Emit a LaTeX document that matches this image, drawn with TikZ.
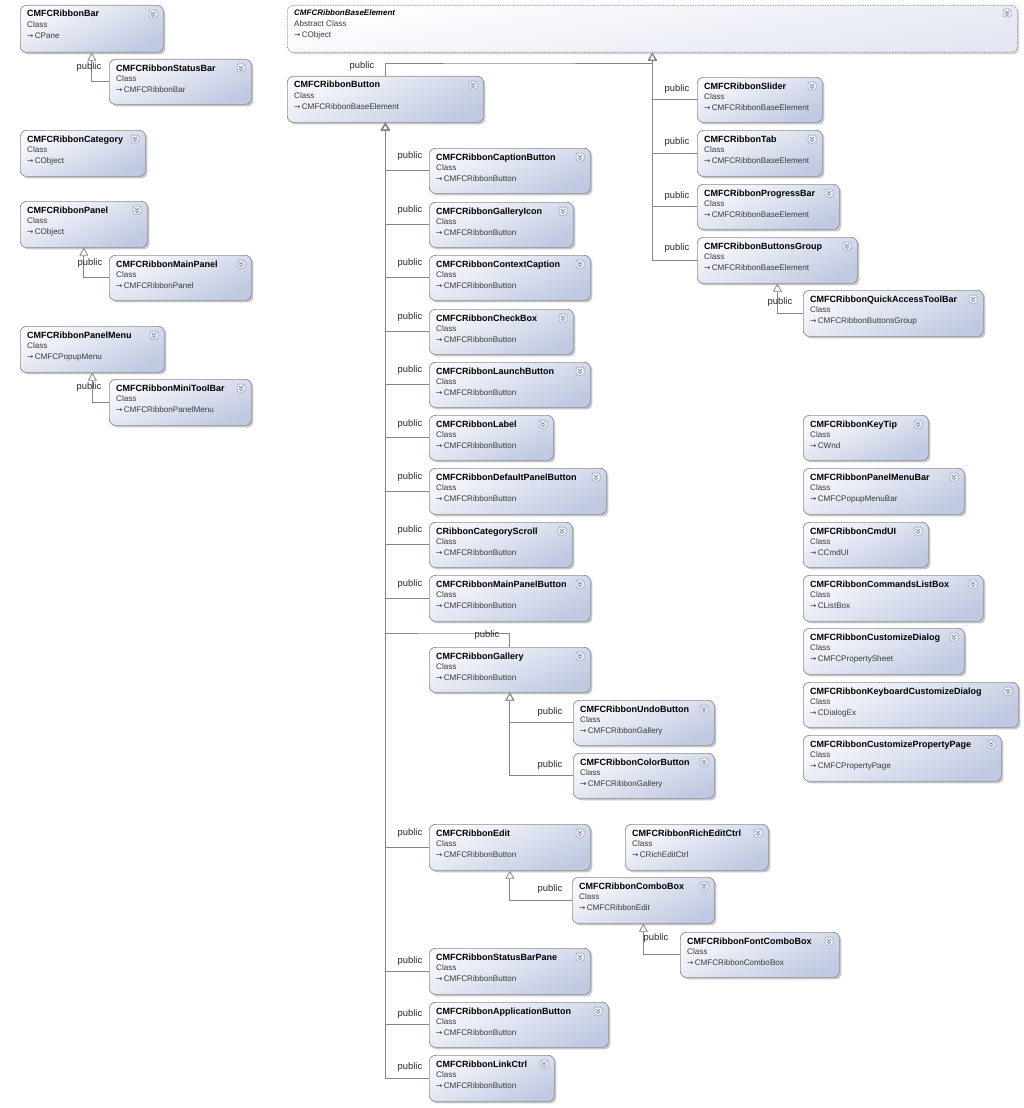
\documentclass[tikz,border=0pt]{standalone}
\usepackage{fontspec}
\setmainfont{Liberation Sans}
\newfontfamily\arrfont{DejaVu Sans}
\usetikzlibrary{arrows.meta,shadows}
\definecolor{boxtop}{HTML}{F8F9FD}
\definecolor{boxbot}{HTML}{C0C9E1}
\definecolor{boxline}{HTML}{8E8E8E}
\definecolor{conn}{HTML}{858585}
\definecolor{subtxt}{HTML}{3A3A3A}
\definecolor{iconfill}{HTML}{EEF1F8}
\definecolor{iconline}{HTML}{8A95B0}
\tikzset{
  cbox/.style={draw=boxline, line width=0.7pt, rounded corners=6pt,
    top color=boxtop, bottom color=boxbot, shading angle=25,
    drop shadow={shadow xshift=2pt, shadow yshift=-2pt, fill=black, opacity=0.22},
    inner sep=0pt},
  abox/.style={draw=boxline, line width=0.7pt, dash pattern=on 1.5pt off 1pt, rounded corners=6pt,
    top color=white, bottom color=boxbot!45, shading angle=10,
    drop shadow={shadow xshift=2pt, shadow yshift=-2pt, fill=black, opacity=0.15},
    inner sep=0pt},
  ctitle/.style={anchor=base west, inner sep=0pt, font=\fontsize{9}{10}\selectfont\bfseries},
  csub/.style={anchor=base west, inner sep=0pt, text=subtxt, font=\fontsize{8.1}{9}\selectfont},
  pub/.style={inner sep=0pt, font=\fontsize{9.4}{10}\selectfont, text=black!85},
  inh/.style={draw=conn, line width=0.8pt, -{Triangle[open, length=8pt, width=9pt]}},
  iconbox/.style={draw=iconline, fill=iconfill, line width=0.5pt, rounded corners=1.5pt},
  chev/.style={draw=iconline!70!black, line width=0.6pt}
}
\newcommand\xicon[2]{%
  \draw[iconbox] ({#1-14},{#2+5}) rectangle ({#1-6},{#2+13});
  \draw[chev] ({#1-12},{#2+7}) -- ({#1-10},{#2+9}) -- ({#1-8},{#2+7});
  \draw[chev] ({#1-12},{#2+9.5}) -- ({#1-10},{#2+11.5}) -- ({#1-8},{#2+9.5});
}
\newcommand\clsbox[7]{%
  \node[cbox, minimum width={#4-#2}, minimum height={#5-#3}, anchor=north west] (#1) at (#2,#3) {};
  \node[ctitle] (#1-n) at ({#2+7},{#3+12}) {#6};
  \node[csub] (#1-k) at ({#2+7},{#3+22.5}) {Class};
  \node[csub] (#1-s) at ({#2+7},{#3+33.5}) {{\arrfont\fontsize{7.5}{9}\selectfont →}\,#7};
  \xicon{#4}{#3}
}
\begin{document}
\begin{tikzpicture}[x=1pt,y=-1pt]
\useasboundingbox (0,0) rectangle (1024,1108);

% ---------- left column ----------
\clsbox{bar}{20}{5}{163}{52}{CMFCRibbonBar}{CPane}
\clsbox{sbar}{109}{59}{251}{104}{CMFCRibbonStatusBar}{CMFCRibbonBar}
\clsbox{cat}{20}{130}{145}{176}{CMFCRibbonCategory}{CObject}
\clsbox{panel}{20}{201}{147}{247}{CMFCRibbonPanel}{CObject}
\clsbox{mpanel}{109}{255}{251}{300}{CMFCRibbonMainPanel}{CMFCRibbonPanel}
\clsbox{pmenu}{20}{326}{164}{372}{CMFCRibbonPanelMenu}{CMFCPopupMenu}
\clsbox{mini}{109}{379}{251}{425}{CMFCRibbonMiniToolBar}{CMFCRibbonPanelMenu}

% ---------- abstract base ----------
\node[abox, minimum width=730, minimum height=47, anchor=north west] (base) at (287,5) {};
\node[anchor=base west, inner sep=0pt, font=\fontsize{8}{9}\selectfont\bfseries\itshape] (base-n) at (294,16) {CMFCRibbonBaseElement};
\node[csub] (base-k) at (294,27) {Abstract Class};
\node[csub] (base-s) at (294,38) {{\arrfont\fontsize{7.5}{9}\selectfont →}\,CObject};
\xicon{1017}{4}

\clsbox{btn}{287}{76}{483}{122}{CMFCRibbonButton}{CMFCRibbonBaseElement}

% ---------- right column ----------
\clsbox{slider}{697}{77}{822}{122}{CMFCRibbonSlider}{CMFCRibbonBaseElement}
\clsbox{tab}{697}{130}{822}{176}{CMFCRibbonTab}{CMFCRibbonBaseElement}
\clsbox{prog}{697}{184}{839}{229}{CMFCRibbonProgressBar}{CMFCRibbonBaseElement}
\clsbox{grp}{697}{237}{857}{283}{CMFCRibbonButtonsGroup}{CMFCRibbonBaseElement}
\clsbox{qat}{803}{290}{983}{336}{CMFCRibbonQuickAccessToolBar}{CMFCRibbonButtonsGroup}

\clsbox{keytip}{803}{415}{928}{460}{CMFCRibbonKeyTip}{CWnd}
\clsbox{pmbar}{803}{468}{964}{514}{CMFCRibbonPanelMenuBar}{CMFCPopupMenuBar}
\clsbox{cmdui}{803}{522}{928}{567}{CMFCRibbonCmdUI}{CCmdUI}
\clsbox{clb}{803}{575}{983}{621}{CMFCRibbonCommandsListBox}{CListBox}
\clsbox{cdlg}{803}{628}{964}{674}{CMFCRibbonCustomizeDialog}{CMFCPropertySheet}
\clsbox{kcd}{803}{682}{1018}{727}{CMFCRibbonKeyboardCustomizeDialog}{CDialogEx}
\clsbox{cpp}{803}{735}{1001}{781}{CMFCRibbonCustomizePropertyPage}{CMFCPropertyPage}

% ---------- middle column ----------
\clsbox{cap}{429}{148}{590}{193}{CMFCRibbonCaptionButton}{CMFCRibbonButton}
\clsbox{gicon}{429}{202}{573}{247}{CMFCRibbonGalleryIcon}{CMFCRibbonButton}
\clsbox{ctx}{429}{255}{590}{300}{CMFCRibbonContextCaption}{CMFCRibbonButton}
\clsbox{chk}{429}{309}{573}{354}{CMFCRibbonCheckBox}{CMFCRibbonButton}
\clsbox{launch}{429}{362}{590}{407}{CMFCRibbonLaunchButton}{CMFCRibbonButton}
\clsbox{lbl}{429}{415}{553}{460}{CMFCRibbonLabel}{CMFCRibbonButton}
\clsbox{dpb}{429}{468}{606}{514}{CMFCRibbonDefaultPanelButton}{CMFCRibbonButton}
\clsbox{scroll}{429}{522}{572}{567}{CRibbonCategoryScroll}{CMFCRibbonButton}
\clsbox{mpb}{429}{575}{590}{621}{CMFCRibbonMainPanelButton}{CMFCRibbonButton}
\clsbox{gal}{429}{647}{590}{692}{CMFCRibbonGallery}{CMFCRibbonButton}
\clsbox{undo}{573}{700}{714}{745}{CMFCRibbonUndoButton}{CMFCRibbonGallery}
\clsbox{color}{573}{753}{714}{798}{CMFCRibbonColorButton}{CMFCRibbonGallery}
\clsbox{edit}{429}{824}{590}{870}{CMFCRibbonEdit}{CMFCRibbonButton}
\clsbox{rich}{625}{824}{768}{870}{CMFCRibbonRichEditCtrl}{CRichEditCtrl}
\clsbox{combo}{572}{877}{714}{923}{CMFCRibbonComboBox}{CMFCRibbonEdit}
\clsbox{font}{680}{932}{839}{977}{CMFCRibbonFontComboBox}{CMFCRibbonComboBox}
\clsbox{sbp}{429}{948}{590}{994}{CMFCRibbonStatusBarPane}{CMFCRibbonButton}
\clsbox{app}{429}{1002}{608}{1047}{CMFCRibbonApplicationButton}{CMFCRibbonButton}
\clsbox{link}{429}{1055}{554}{1101}{CMFCRibbonLinkCtrl}{CMFCRibbonButton}

% ---------- connectors ----------
\draw[inh] (sbar.west) -| (bar.south);
\draw[inh] (mpanel.west) -| (panel.south);
\draw[inh] (mini.west) -| (pmenu.south);

\coordinate (bj) at (500,63);
\draw[inh] (btn.north) |- (bj) -| (base.south);
\foreach \c in {slider,tab,prog,grp}{\draw[inh] (\c.west) -| (base.south);}
\draw[inh] (qat.west) -| (grp.south);

\foreach \c in {cap,gicon,ctx,chk,launch,lbl,dpb,scroll,mpb,edit,sbp,app,link}{\draw[inh] (\c.west) -| (btn.south);}
\coordinate (gj) at (450,633);
\draw[inh] (gal.north) |- (gj) -| (btn.south);
\draw[inh] (undo.west) -| (gal.south);
\draw[inh] (color.west) -| (gal.south);
\draw[inh] (combo.west) -| (edit.south);
\draw[inh] (font.west) -| (combo.south);

% ---------- labels ----------
\node[pub] (p1) at (89,67) {public};
\node[pub] (p2) at (90,263) {public};
\node[pub] (p3) at (89,387) {public};
\node[pub] (p4) at (362,66) {public};
\node[pub] (p5) at (677,89) {public};
\node[pub] (p6) at (677,142) {public};
\node[pub] (p7) at (677,196) {public};
\node[pub] (p8) at (677,248) {public};
\node[pub] (p9) at (780,302) {public};
\node[pub] (p10) at (410,156) {public};
\node[pub] (p11) at (410,210) {public};
\node[pub] (p12) at (410,263) {public};
\node[pub] (p13) at (410,317) {public};
\node[pub] (p14) at (410,370) {public};
\node[pub] (p15) at (410,424) {public};
\node[pub] (p16) at (410,477) {public};
\node[pub] (p17) at (410,530) {public};
\node[pub] (p18) at (410,584) {public};
\node[pub] (p19) at (487,635) {public};
\node[pub] (p20) at (550,712) {public};
\node[pub] (p21) at (550,765) {public};
\node[pub] (p22) at (410,833) {public};
\node[pub] (p23) at (550,889) {public};
\node[pub] (p24) at (656,938) {public};
\node[pub] (p25) at (410,961) {public};
\node[pub] (p26) at (410,1014) {public};
\node[pub] (p27) at (410,1067) {public};
\end{tikzpicture}
\end{document}
